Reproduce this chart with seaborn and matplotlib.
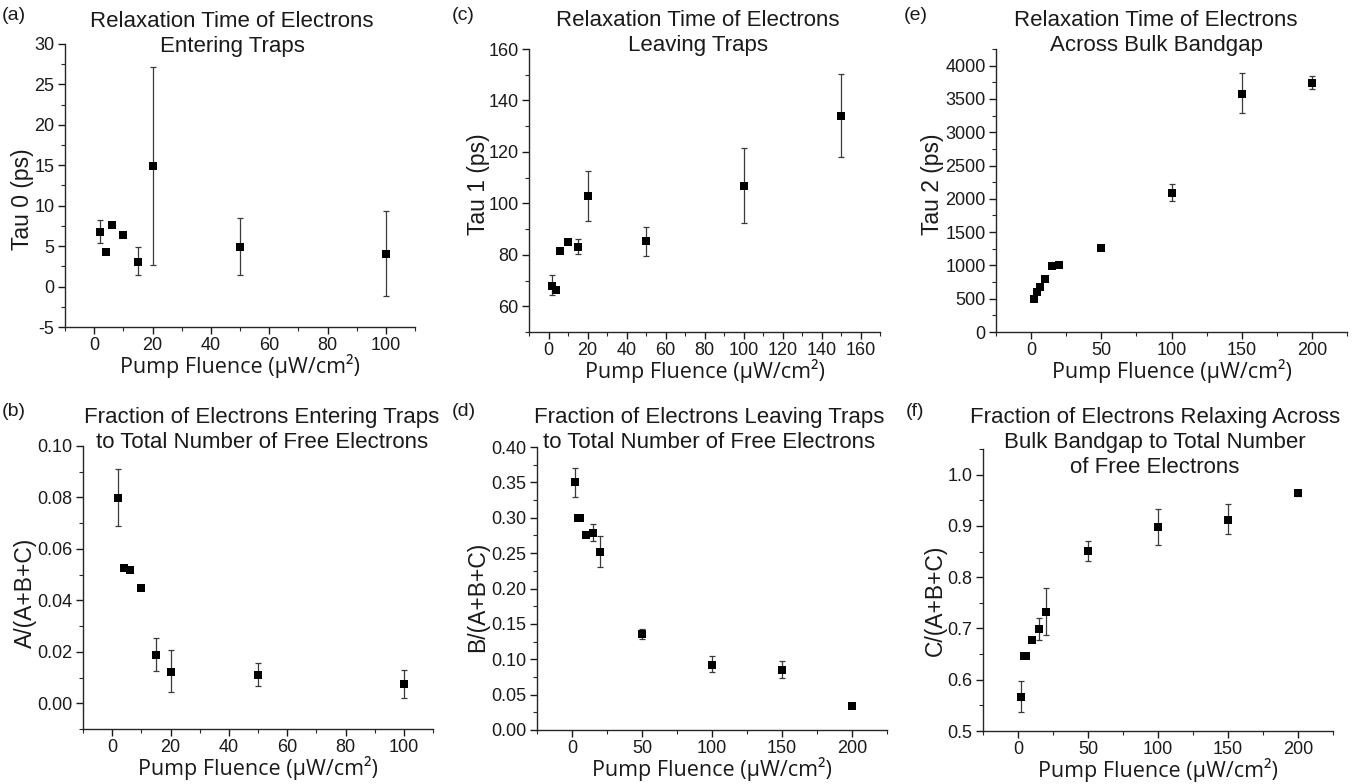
import numpy as np
import pandas as pd
import matplotlib
matplotlib.use("Agg")
import matplotlib.pyplot as plt
from matplotlib.ticker import MultipleLocator, AutoMinorLocator, FormatStrFormatter
import seaborn as sns

# --- data ---
fluence_a = [2, 4, 6, 10, 15, 20, 50, 100]
tau0 = [6.8, 4.3, 7.6, 6.4, 3.1, 14.9, 4.9, 4.0]
tau0_lo = [5.4, 4.3, 7.6, 6.4, 1.4, 2.7, 1.4, -1.2]
tau0_hi = [8.2, 4.3, 7.6, 6.4, 4.9, 27.2, 8.5, 9.4]

fluence_c = [2, 4, 6, 10, 15, 20, 50, 100, 150]
tau1 = [68.0, 66.5, 81.4, 84.9, 83.2, 102.8, 85.2, 106.8, 133.8]
tau1_lo = [64.4, 66.0, 81.4, 84.9, 80.2, 93.2, 79.5, 92.4, 118.0]
tau1_hi = [72.1, 67.0, 81.4, 84.9, 86.2, 112.5, 90.7, 121.5, 150.1]

fluence_e = [2, 4, 6, 10, 15, 20, 50, 100, 150, 200]
tau2 = [497, 597, 678, 793, 984, 999, 1260, 2093, 3578, 3744]
tau2_lo = [497, 597, 678, 793, 984, 999, 1260, 1972, 3288, 3648]
tau2_hi = [497, 597, 678, 793, 984, 999, 1260, 2218, 3890, 3849]

fluence_b = [2, 4, 6, 10, 15, 20, 50, 100]
frac_a = [0.0799, 0.0526, 0.0517, 0.0449, 0.0188, 0.0123, 0.0110, 0.0074]
frac_a_lo = [0.0688, 0.0519, 0.0512, 0.0446, 0.0126, 0.0043, 0.0068, 0.0021]
frac_a_hi = [0.0910, 0.0533, 0.0522, 0.0452, 0.0253, 0.0208, 0.0156, 0.0129]

fluence_d = [2, 4, 6, 10, 15, 20, 50, 100, 150, 200]
frac_b = [0.350, 0.300, 0.2995, 0.276, 0.279, 0.252, 0.135, 0.092, 0.085, 0.034]
frac_b_lo = [0.330, 0.299, 0.298, 0.275, 0.267, 0.231, 0.128, 0.0816, 0.0731, 0.033]
frac_b_hi = [0.370, 0.301, 0.301, 0.277, 0.2906, 0.274, 0.143, 0.105, 0.0976, 0.035]

fluence_f = [2, 4, 6, 10, 15, 20, 50, 100, 150, 200]
frac_c = [0.567, 0.6455, 0.646, 0.677, 0.699, 0.733, 0.851, 0.897, 0.912, 0.964]
frac_c_lo = [0.537, 0.644, 0.645, 0.676, 0.677, 0.688, 0.831, 0.863, 0.884, 0.958]
frac_c_hi = [0.597, 0.647, 0.647, 0.678, 0.721, 0.779, 0.870, 0.933, 0.942, 0.970]

sns.set_style("ticks")
plt.rcParams["font.family"] = ["Liberation Sans", "DejaVu Sans"]
plt.rcParams["axes.linewidth"] = 1.0
plt.rcParams["text.color"] = "#1a1a1a"
plt.rcParams["axes.labelcolor"] = "#1a1a1a"

W, H = 1354, 784
fig = plt.figure(figsize=(W / 100, H / 100), dpi=100)
XLABEL = "Pump Fluence (\u00b5W/cm\u00b2)"


def px_axes(box):
    left, top, right, bottom = box
    return fig.add_axes([left / W, 1 - bottom / H, (right - left) / W, (bottom - top) / H])


def panel(box, x, y, lo, hi, ylabel, ylab_px, xlim, ylim, xmaj, ymaj, fmt):
    ax = px_axes(box)
    y = np.array(y)
    yerr = [y - np.array(lo), np.array(hi) - y]
    ax.errorbar(x, y, yerr=yerr, fmt="none", ecolor="#3a3a3a", elinewidth=0.9,
                capsize=2.3, capthick=0.9, zorder=2)
    df = pd.DataFrame({"x": x, "y": y})
    sns.scatterplot(data=df, x="x", y="y", marker="s", color="black", s=36,
                    edgecolor="black", linewidth=0, ax=ax, zorder=3)
    ax.set_xlim(*xlim)
    ax.set_ylim(*ylim)
    ax.xaxis.set_major_locator(MultipleLocator(xmaj))
    ax.yaxis.set_major_locator(MultipleLocator(ymaj))
    ax.xaxis.set_minor_locator(AutoMinorLocator(2))
    ax.yaxis.set_minor_locator(AutoMinorLocator(2))
    ax.yaxis.set_major_formatter(FormatStrFormatter(fmt))
    ax.tick_params(which="major", direction="out", length=5, width=1, labelsize=13,
                   colors="#1a1a1a", pad=2.5)
    ax.tick_params(which="minor", direction="out", length=3, width=0.8)
    sns.despine(ax=ax)
    ax.set_ylabel(ylabel, fontsize=16.5, va="center")
    # y-label centre in figure pixels, converted to axes fractions
    left, top, right, bottom = box
    ax.yaxis.set_label_coords((ylab_px[0] - left) / (right - left),
                              (bottom - ylab_px[1]) / (bottom - top))
    ax.set_xlabel(XLABEL, fontsize=15.5, family=["Open Sans", "DejaVu Sans"], labelpad=0)
    return ax


def title(cx, top, text, tag, tag_x, tag_y):
    fig.text(cx / W, 1 - top / H, text, ha="center", va="top", fontsize=16,
             linespacing=1.25)
    fig.text(tag_x / W, 1 - tag_y / H, tag, ha="left", va="top", fontsize=14)


panel((65, 44, 415, 327), fluence_a, tau0, tau0_lo, tau0_hi, "Tau 0 (ps)", (23, 199),
      (-10, 110), (-5, 30), 20, 5, "%d")
title(232, 11, "Relaxation Time of Electrons\nEntering Traps", "(a)", 2, 7)

panel((529, 49, 880, 332), fluence_c, tau1, tau1_lo, tau1_hi, "Tau 1 (ps)", (478, 184),
      (-10, 170), (50, 160), 20, 20, "%d")
title(698, 10, "Relaxation Time of Electrons\nLeaving Traps", "(c)", 452, 7)

panel((996, 49, 1347, 332), fluence_e, tau2, tau2_lo, tau2_hi, "Tau 2 (ps)", (932, 184),
      (-25, 225), (0, 4250), 50, 500, "%d")
title(1156, 10, "Relaxation Time of Electrons\nAcross Bulk Bandgap", "(e)", 904, 7)

panel((83, 446, 433, 729), fluence_b, frac_a, frac_a_lo, frac_a_hi, "A/(A+B+C)", (25, 593),
      (-10, 110), (-0.01, 0.10), 20, 0.02, "%.2f")
title(262, 407, "Fraction of Electrons Entering Traps\nto Total Number of Free Electrons", "(b)", 2, 403)

panel((537, 447, 887, 730), fluence_d, frac_b, frac_b_lo, frac_b_hi, "B/(A+B+C)", (478, 597),
      (-25, 225), (0, 0.40), 50, 0.05, "%.2f")
title(709, 407, "Fraction of Electrons Leaving Traps\nto Total Number of Free Electrons", "(d)", 452, 403)

panel((983, 449, 1333, 731), fluence_f, frac_c, frac_c_lo, frac_c_hi, "C/(A+B+C)", (935, 600),
      (-25, 225), (0.5, 1.05), 50, 0.1, "%.1f")
title(1155, 407, "Fraction of Electrons Relaxing Across\nBulk Bandgap to Total Number\nof Free Electrons", "(f)", 906, 403)

fig.savefig("out.png", dpi=100)
